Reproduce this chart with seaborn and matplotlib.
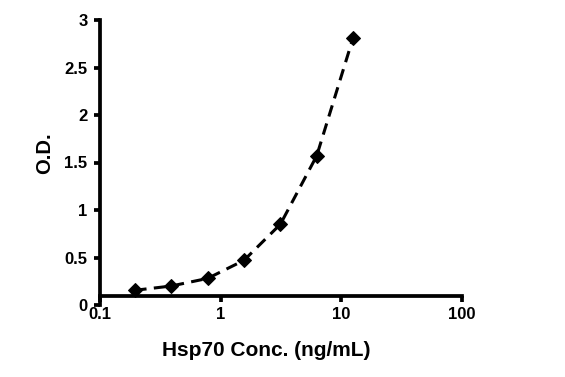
import matplotlib
matplotlib.use("Agg")
import matplotlib.pyplot as plt
import seaborn as sns
import pandas as pd

conc = [0.195, 0.39, 0.78, 1.56, 3.125, 6.25, 12.5]
od = [0.155, 0.20, 0.28, 0.47, 0.85, 1.57, 2.81]
x_ticks = [0.1, 1, 10, 100]
x_labels = ["0.1", "1", "10", "100"]
y_ticks = [0, 0.5, 1, 1.5, 2, 2.5, 3]
y_labels = ["0", "0.5", "1", "1.5", "2", "2.5", "3"]

sns.set_style("white")
plt.rcParams['font.family'] = ['Liberation Sans', 'DejaVu Sans']
plt.rcParams['font.weight'] = 'bold'
plt.rcParams['text.color'] = 'black'
plt.rcParams['xtick.color'] = 'black'
plt.rcParams['ytick.color'] = 'black'

df = pd.DataFrame({"conc": conc, "od": od})

fig = plt.figure(figsize=(5.65, 3.77), dpi=100)
ax = fig.add_axes([100/565, 1-305/377, 362/565, 285/377])

sns.lineplot(data=df, x="conc", y="od", ax=ax, color="black", linestyle=(0, (3.8, 2.4)),
             linewidth=2.2, marker="D", markersize=7.5, markeredgecolor="black",
             markerfacecolor="black", zorder=3)

ax.set_xscale("log")
ax.set_xlim(0.1, 100)
ax.set_ylim(0, 3)
ax.set_xticks(x_ticks)
ax.set_xticklabels(x_labels)
ax.set_xticks([], minor=True)
ax.set_yticks(y_ticks)
ax.set_yticklabels(y_labels)

for s in ["top", "right"]:
    ax.spines[s].set_visible(False)
ax.spines["bottom"].set_position(("data", 0.1))
for s in ["left", "bottom"]:
    ax.spines[s].set_linewidth(2.7)
    ax.spines[s].set_color("black")

ax.tick_params(axis="both", which="major", direction="out", length=4, width=2.7,
               color="black", labelsize=12, labelcolor="black", bottom=True, left=True)
ax.tick_params(axis="x", pad=4)
ax.tick_params(axis="y", pad=5)
for lbl in ax.get_xticklabels() + ax.get_yticklabels():
    lbl.set_fontweight("bold")

ax.set_xlabel("")
ax.set_ylabel("")
fig.text(266/565, 1-350/377, "Hsp70 Conc. (ng/mL)", ha="center", va="center",
         fontsize=15, fontweight="bold", color="black")
fig.text(45/565, 1-153/377, "O.D.", ha="center", va="center", rotation=90,
         fontsize=14.5, fontweight="bold", color="black")

fig.savefig("out.png", dpi=100)
